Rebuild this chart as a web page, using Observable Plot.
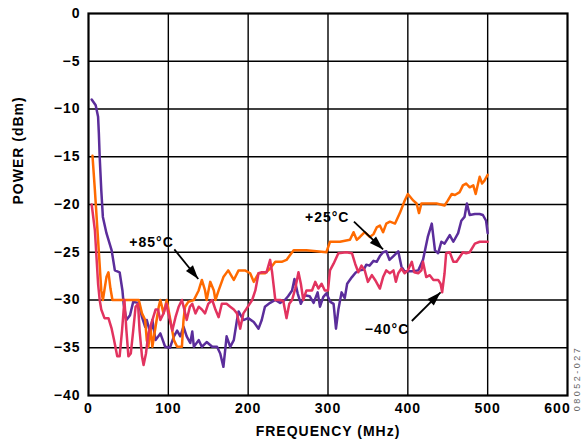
<!DOCTYPE html>
<html><head><meta charset="utf-8">
<script src="https://cdn.jsdelivr.net/npm/d3@7"></script>
<script src="https://cdn.jsdelivr.net/npm/@observablehq/plot@0.6"></script>
<style>html,body{margin:0;padding:0;background:#fff}</style>
</head><body><div id="chart"></div>
<script>
// Series
const seriesNames = ["+25°C", "+85°C", "−40°C"];
const seriesColors = ["#5B2D9B", "#FF6A00", "#E2335F"];

// +25°C (purple)
const freq25 = [4,9,12,13,14,16,18,22.5,29,33,39,42.5,44,47.5,52,56,63,67,71,73,77.5,80,84,90,96,102,107,111,115,119,123,127.5,130,132,138,142,148,155,161,165,169,173,177.5,182,186,188,194,200,207,213,217,221,227.5,234,240,246,250,255,258,262,266,271,277,282,287,290,294,298,303,307,310,313,317,321,324,330,335,340,345,348,352,357,361,365,369,373,377,382,388,392,396,407,413,419,425,430,434,438,442,446,452.5,457,463,467,471,474,477.5,484,490,494,498,500];
const pow25 = [-9,-9.6,-10.8,-12.6,-15,-18.5,-21.3,-23,-24.8,-26.9,-27.1,-29,-30.4,-32.1,-31.6,-30.2,-30.3,-31.8,-32.8,-32.1,-33.5,-32.1,-34.2,-33.5,-34.9,-35,-33.8,-33.2,-33.8,-32.8,-33.8,-34.5,-33.3,-34.9,-34.2,-34.9,-34.4,-34.9,-34.9,-35.6,-37,-33.8,-34.9,-34.2,-32.1,-31.2,-32.1,-31.9,-32.3,-33,-32.1,-30.7,-30.3,-30,-30.3,-30,-29.6,-29,-27.8,-29.3,-30.4,-29.5,-29.6,-30.3,-29.2,-30.7,-29.7,-29.3,-30.2,-30.4,-33,-31,-29.2,-29.8,-28.3,-27.6,-27.1,-26.9,-26.8,-26.3,-26.4,-25.9,-26,-25.4,-25,-24.9,-25.8,-25.4,-24.9,-26.5,-27,-27,-26.9,-25.8,-23.4,-22,-24.8,-25.1,-23.9,-24.1,-23.2,-23.9,-23,-21.7,-21.3,-19.9,-21.1,-21,-21,-21.1,-21.7,-23];

// +85°C (orange)
const freq85 = [5,8,12,16,18,22.5,25,27.5,30,45,63,67,71,73,75,77.5,80,84,88,90,94,98,102.5,107,111,117,119,121,125,132,138,142,146,148,152.5,157,159,163,169,175,182,188,196,202.5,207,213,221,227.5,234,242,248,252.5,257,273,298,302.5,315,327.5,332,336,340,346,352.5,357,361,365,369,373,377.5,384,390,396,400,407,411,414,417,423,436,446,450,455,459,465,469,473,477.5,482,485,488,490,493,496,500];
const pow85 = [-14.9,-18.5,-23.7,-29,-30,-27.6,-27.1,-28.8,-30,-30,-30,-31.4,-32.1,-34.2,-34.9,-32.8,-34.9,-32.8,-30.7,-30,-31.4,-30,-32.1,-34.2,-34.9,-34.9,-32.1,-30.7,-30.2,-30,-29,-27.9,-29,-30,-28.1,-29,-30,-29,-27.6,-26.9,-27.9,-26.9,-26.9,-27.2,-28.1,-27.2,-27.2,-26.7,-26,-26,-25.8,-25.3,-24.8,-24.8,-25,-23.9,-23.9,-23.7,-22.9,-23.7,-23.4,-22.9,-23.4,-23.1,-22.4,-22.2,-22.9,-22,-21.8,-22,-20.9,-19.6,-18.9,-19.6,-19.9,-20.9,-19.9,-19.9,-19.9,-20.1,-19.6,-18.9,-19,-18.7,-18,-17.8,-18.2,-18,-18.9,-17.8,-17.1,-17.8,-17.5,-16.9];

// −40°C (pink)
const freqM40 = [4,8,10,12,14,16,20,25,29,32,36,39,42,45,47.5,50,53,56,59,62,64,67,69,72,75,80,84,87,90,94,97.5,100,105,109,113,117,120,123,127,130,134,138,142,146,150,155,159,163,167,173,177.5,182,186,190,194,198,205,209,213,217,223,227.5,230,234,240,244,248,251.5,255,259,263,266,269,273,280,284,288,292,296,300,302.5,307,313,323,330,334,338,342,346,350,355,359,365,369,373,377.5,382,385,388,392,396,400,405,408,413,417,419,423,427.5,432,438,441,443,446,448,452.5,457,461,465,469,473,477.5,484,490,500];
const powM40 = [-20,-22.7,-25.5,-28.3,-30,-31,-31.9,-31.9,-33,-34.2,-35.9,-35.9,-33.2,-30,-33.2,-35.9,-35.6,-33.2,-30.7,-30.4,-33.2,-35.9,-36.8,-35.6,-33.5,-32.1,-31,-31,-32.1,-31.4,-30.4,-31.4,-33.2,-31.8,-30.7,-30,-31,-32.1,-30.7,-30.4,-31.4,-30.7,-31,-31.4,-30.4,-30,-31,-31.8,-30.4,-30.4,-30.7,-31,-31.4,-33,-31.4,-30.9,-30,-29,-27.2,-27.1,-27.1,-25.8,-27.1,-30,-30,-30.1,-31.9,-30.4,-30,-28.8,-27.1,-28.3,-30,-29,-29,-28.1,-28.8,-28.3,-29,-29,-26.9,-26.2,-25.1,-25,-25.1,-26.2,-27.1,-26.4,-26.9,-28.1,-27.4,-27.9,-28.8,-27.6,-26.9,-27.2,-26.9,-28.1,-27.2,-26.7,-27.2,-26.9,-26,-27.1,-27.2,-26.9,-26,-27.6,-27.4,-27.9,-27.9,-28.3,-29.2,-27.2,-25.1,-25,-26,-26,-25.5,-25,-25.1,-25,-24.1,-23.9,-23.9];

// Axes
const xTicks = [0, 100, 200, 300, 400, 500, 600];
const yTicks = [0, -5, -10, -15, -20, -25, -30, -35, -40];
const xLabel = "FREQUENCY (MHz)";
const yLabel = "POWER (dBm)";
const figureId = "08052-027";

// Annotations (data coordinates)
const annLabels = ["+85°C", "+25°C", "−40°C"];
const annTextX = [79, 299, 374];
const annTextY = [-23.95, -21.4, -33.05];
const arrowFromX = [107.5, 332.5, 405];
const arrowFromY = [-24.7, -21.8, -32.2];
const arrowToX = [137.5, 369, 441];
const arrowToY = [-27.8, -24.7, -29.2];

// Build tables
const seriesFreq = [freq25, freq85, freqM40];
const seriesPow = [pow25, pow85, powM40];
const data = seriesNames.flatMap((s, i) => seriesFreq[i].map((f, j) => ({series: s, freq: f, power: seriesPow[i][j]})));

const W = 581, H = 447, ML = 88, MR = 14, MT = 13, MB = 52;
const kx = (W - ML - MR) / 600, ky = (H - MT - MB) / 40;
const arrows = annLabels.map((t, i) => {
  const dx = (arrowToX[i] - arrowFromX[i]) * kx;
  const dy = -(arrowToY[i] - arrowFromY[i]) * ky;
  return {x1: arrowFromX[i], y1: arrowFromY[i], x2: arrowToX[i], y2: arrowToY[i], angle: Math.atan2(dx, -dy) * 180 / Math.PI};
});
const annText = annLabels.map((t, i) => ({text: t, x: annTextX[i], y: annTextY[i]}));

// Slim filled arrowhead with tip at origin, pointing up
const arrowHead = {draw(ctx) { const L = 14, w = 4.5; ctx.moveTo(0, 0); ctx.lineTo(w, L); ctx.lineTo(-w, L); ctx.closePath(); }};

const fmtY = d => d < 0 ? "−" + (-d) : String(d);
const FONT = "'Liberation Sans', Arial, Helvetica, sans-serif";

const chart = Plot.plot({
  width: W, height: H,
  marginLeft: ML, marginRight: MR, marginTop: MT, marginBottom: MB,
  style: {fontFamily: FONT, fontSize: "14px", fontWeight: "bold", color: "black", background: "white", letterSpacing: "1px"},
  x: {domain: [0, 600]},
  y: {domain: [-40, 0]},
  color: {domain: seriesNames, range: seriesColors},
  marks: [
    Plot.gridX(xTicks.slice(1, -1), {stroke: "black", strokeOpacity: 1, strokeWidth: 1.4}),
    Plot.gridY(yTicks.slice(1, -1), {stroke: "black", strokeOpacity: 1, strokeWidth: 1.4}),
    Plot.axisX(xTicks.slice(0, -1), {tickSize: 0, tickPadding: 8, label: null, fontSize: 14, fontWeight: "bold"}),
    Plot.axisX(xTicks.slice(-1), {tickSize: 0, tickPadding: 8, label: null, fontSize: 14, fontWeight: "bold", dx: -10}),
    Plot.axisY(yTicks, {tickSize: 0, tickPadding: 8, tickFormat: fmtY, label: null, fontSize: 14, fontWeight: "bold"}),
    Plot.line(data, {x: "freq", y: "power", z: "series", stroke: "series", strokeWidth: 2.5, curve: "linear"}),
    Plot.frame({stroke: "black", strokeWidth: 2.2}),
    Plot.link(arrows, {x1: "x1", y1: "y1", x2: "x2", y2: "y2", stroke: "black", strokeWidth: 1.8}),
    Plot.dot(arrows, {x: "x2", y: "y2", symbol: arrowHead, rotate: "angle", fill: "black", stroke: "none", r: 5}),
    Plot.text(annText, {x: "x", y: "y", text: "text", fill: "black", fontSize: 14, fontWeight: "bold"}),
    Plot.text([xLabel], {frameAnchor: "bottom", dy: 40, fill: "black", fontSize: 14, fontWeight: "bold"}),
    Plot.text([yLabel], {frameAnchor: "left", dx: -70, rotate: -90, fill: "black", fontSize: 14, fontWeight: "bold"}),
    Plot.text([figureId], {frameAnchor: "bottom-right", dx: 10, dy: -17, rotate: -90, textAnchor: "middle", lineAnchor: "middle", fill: "#666", fontSize: 9, fontWeight: "normal"})
  ]
});
document.getElementById("chart").appendChild(chart);
d3.select(chart).selectAll("text").filter(function() { return this.textContent === figureId; }).style("letter-spacing", "2.5px");
</script>
</body></html>
